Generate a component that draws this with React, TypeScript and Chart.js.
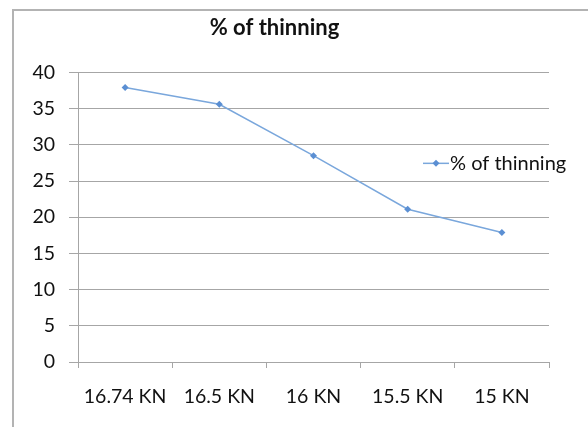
import React, { useEffect, useRef } from "react";
import { Chart, registerables } from "chart.js";

Chart.register(...registerables);

// Load levels along the x axis and the measured thinning for each.
const categories = ["16.74 KN", "16.5 KN", "16 KN", "15.5 KN", "15 KN"];
const thinning = [37.9, 35.6, 28.5, 21.1, 17.9];
const seriesName = "% of thinning";
const chartTitle = "% of thinning";
const yMin = 0;
const yMax = 40;
const yStep = 5;

const FONT = "Lato, 'Noto Sans', sans-serif";
const GRID = "#a6a6a6";
const LINE = "#7aa7dc";
const MARKER = "#5b8fd3";
const TEXT = "#111111";

// Draws a diamond marker centred on (x, y).
function diamond(ctx: CanvasRenderingContext2D, x: number, y: number, r: number) {
  ctx.beginPath();
  ctx.moveTo(x, y - r);
  ctx.lineTo(x + r, y);
  ctx.lineTo(x, y + r);
  ctx.lineTo(x - r, y);
  ctx.closePath();
  ctx.fill();
}

// Legend sitting inside the right part of the plot area.
const insideLegend = {
  id: "insideLegend",
  afterDraw(chart: any) {
    const { ctx, chartArea } = chart;
    const ds = chart.data.datasets[0];
    const x0 = chartArea.right - 126;
    const y = chartArea.top + (chartArea.bottom - chartArea.top) * 0.314;
    ctx.save();
    ctx.strokeStyle = ds.borderColor;
    ctx.lineWidth = 1.5;
    ctx.beginPath();
    ctx.moveTo(x0, y);
    ctx.lineTo(x0 + 26, y);
    ctx.stroke();
    ctx.fillStyle = ds.pointBackgroundColor;
    diamond(ctx, x0 + 13, y, 3.5);
    ctx.fillStyle = TEXT;
    ctx.font = `20px ${FONT}`;
    ctx.textBaseline = "middle";
    ctx.textAlign = "left";
    ctx.fillText(ds.label, x0 + 27, y);
    ctx.restore();
  },
};

export default function App() {
  const ref = useRef<HTMLCanvasElement | null>(null);

  useEffect(() => {
    if (!ref.current) return;
    const chart = new Chart(ref.current, {
      type: "line",
      data: {
        labels: categories,
        datasets: [
          {
            label: seriesName,
            data: thinning,
            borderColor: LINE,
            backgroundColor: MARKER,
            pointBackgroundColor: MARKER,
            pointBorderColor: MARKER,
            pointStyle: "rectRot",
            pointRadius: 3.5,
            pointBorderWidth: 0,
            borderWidth: 1.5,
            tension: 0,
          },
        ],
      },
      options: {
        responsive: false,
        animation: false,
        layout: { padding: { top: 0, left: 0, right: 39, bottom: 0 } },
        plugins: {
          legend: { display: false },
          tooltip: { enabled: false },
          title: {
            display: true,
            text: chartTitle,
            color: TEXT,
            font: { family: FONT, size: 22, weight: "bold" },
            padding: { top: 15, bottom: 31 },
          },
        },
        scales: {
          x: {
            offset: true,
            grid: {
              offset: true,
              drawOnChartArea: false,
              drawTicks: true,
              tickLength: 6,
              color: GRID,
            },
            border: { color: GRID, width: 1 },
            ticks: {
              color: TEXT,
              font: { family: FONT, size: 19.5 },
              padding: 17,
              maxRotation: 0,
              autoSkip: false,
            },
            afterFit(scale: any) {
              scale.height = 65;
            },
          },
          y: {
            min: yMin,
            max: yMax,
            grid: { color: GRID, tickLength: 9, lineWidth: 1 },
            border: { color: GRID, width: 1 },
            ticks: {
              stepSize: yStep,
              color: TEXT,
              font: { family: FONT, size: 19.5 },
              padding: 14,
            },
            afterFit(scale: any) {
              scale.width = 78;
            },
          },
        },
      },
      plugins: [insideLegend],
    });
    return () => chart.destroy();
  }, []);

  return (
    <div
      style={{
        position: "fixed",
        left: 0,
        top: 0,
        width: 588,
        height: 427,
        overflow: "hidden",
        background: "#ffffff",
      }}
    >
      <div
        style={{
          position: "absolute",
          left: 12,
          top: 9,
          width: 640,
          height: 480,
          border: "2px solid #b3b3b3",
        }}
      />
      <canvas
        ref={ref}
        width={588}
        height={427}
        style={{ position: "absolute", left: 0, top: 0, display: "block" }}
      />
    </div>
  );
}
